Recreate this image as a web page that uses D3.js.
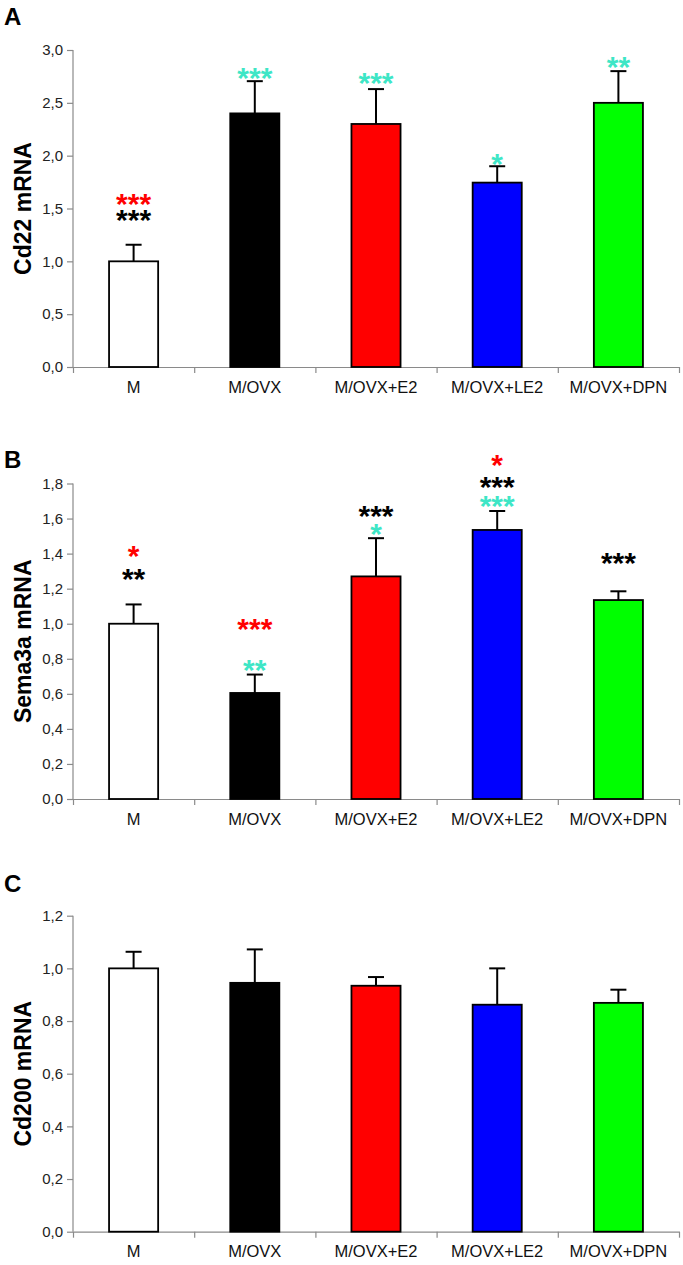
<!DOCTYPE html>
<html><head><meta charset="utf-8">
<script src="https://cdn.jsdelivr.net/npm/d3@7"></script>
<style>html,body{margin:0;padding:0;background:#fff;}svg{display:block;}</style>
</head><body>
<svg id="chart" width="683" height="1265"></svg>
<script>
const categories = ["M","M/OVX","M/OVX+E2","M/OVX+LE2","M/OVX+DPN"];

const cd22 = [1.0, 2.40, 2.30, 1.745, 2.50];
const cd22Err = [0.157, 0.305, 0.33, 0.155, 0.30];
const cd22Ticks = [0,0.5,1.0,1.5,2.0,2.5,3.0];
// [stars, comparison group, y position in data units]
const cd22Sig = [
  [["***","E2",1.611],["***","OVX",1.454]],
  [["***","M",2.804]],
  [["***","M",2.754]],
  [["*","M",1.99]],
  [["**","M",2.905]]
];

const sema3a = [1.0, 0.605, 1.27, 1.535, 1.135];
const sema3aErr = [0.11, 0.105, 0.218, 0.108, 0.05];
const sema3aTicks = [0,0.2,0.4,0.6,0.8,1.0,1.2,1.4,1.6,1.8];
const sema3aSig = [
  [["*","E2",1.426],["**","OVX",1.297]],
  [["***","E2",1.011],["**","M",0.778]],
  [["***","OVX",1.656],["*","M",1.553]],
  [["*","E2",1.944],["***","OVX",1.82],["***","M",1.711]],
  [["***","OVX",1.388]]
];

const cd200 = [1.0, 0.945, 0.934, 0.862, 0.869];
const cd200Err = [0.063, 0.127, 0.033, 0.138, 0.05];
const cd200Ticks = [0,0.2,0.4,0.6,0.8,1.0,1.2];
const cd200Sig = [[],[],[],[],[]];

const panelLetters = ["A","B","C"];
const yTitles = ["Cd22 mRNA","Sema3a mRNA","Cd200 mRNA"];

// styles
const barFill = ["#ffffff","#000000","#ff0000","#0000ff","#00ff00"];
const sigColor = {M:"#3ee6c6", OVX:"#000000", E2:"#ff0000"};
const axisColor = "#8a8a8a";
const FONT = "'Liberation Sans', Arial, Helvetica, sans-serif";

const svg = d3.select("#chart");
const x0 = 73, x1 = 679;

const panels = [
  {vals:cd22, err:cd22Err, ticks:cd22Ticks, sig:cd22Sig, top:50, bottom:367, letterY:25},
  {vals:sema3a, err:sema3aErr, ticks:sema3aTicks, sig:sema3aSig, top:483.5, bottom:799, letterY:468},
  {vals:cd200, err:cd200Err, ticks:cd200Ticks, sig:cd200Sig, top:915.7, bottom:1231.7, letterY:892}
];

const fmt = v => d3.format(".1f")(v).replace(".", ",");

panels.forEach((p, pi) => {
  const g = svg.append("g");
  const y = d3.scaleLinear().domain([0, d3.max(p.ticks)]).range([p.bottom, p.top]);
  const xb = d3.scaleBand().domain(categories).range([x0, x1]).padding(0);
  const bw = xb.bandwidth() * 0.405;
  const cx = i => xb(categories[i]) + xb.bandwidth() / 2;

  // panel letter
  g.append("text").attr("x", 4).attr("y", p.letterY)
    .attr("font-family", FONT).attr("font-weight", "bold").attr("font-size", 24)
    .text(panelLetters[pi]);

  // y title
  g.append("text")
    .attr("transform", `translate(${31},${(p.top + p.bottom) / 2}) rotate(-90)`)
    .attr("text-anchor", "middle")
    .attr("font-family", FONT).attr("font-weight", "bold").attr("font-size", 23)
    .text(yTitles[pi]);

  // y axis
  const ya = g.append("g").attr("transform", `translate(${x0},0)`)
    .call(d3.axisLeft(y).tickValues(p.ticks).tickFormat(fmt).tickSize(6).tickPadding(4));
  ya.selectAll("path,line").attr("stroke", axisColor).attr("stroke-width", 1.2);
  ya.select(".domain").attr("d", `M0,${y(0)}V${y(d3.max(p.ticks))}`);
  ya.selectAll("text").attr("font-family", FONT).attr("font-size", 15).attr("fill", "#222");

  // x axis: boundary ticks
  const xl = d3.scaleLinear().domain([0, categories.length]).range([x0, x1]);
  const xa = g.append("g").attr("transform", `translate(0,${y(0)})`)
    .call(d3.axisBottom(xl).tickValues(d3.range(categories.length + 1)).tickFormat("").tickSize(6).tickSizeOuter(0));
  xa.selectAll("path,line").attr("stroke", axisColor).attr("stroke-width", 1.2);

  // x labels
  const xlab = g.append("g").attr("transform", `translate(0,${y(0)})`)
    .call(d3.axisBottom(xb).tickSize(0).tickPadding(14));
  xlab.select(".domain").remove();
  xlab.selectAll("text").attr("font-family", FONT).attr("font-size", 16.5).attr("fill", "#111");

  // error bars
  const eb = g.selectAll(".eb").data(p.vals).enter().append("g");
  eb.append("line")
    .attr("x1", (d, i) => cx(i)).attr("x2", (d, i) => cx(i))
    .attr("y1", d => y(d))
    .attr("y2", (d, i) => y(d + p.err[i]))
    .attr("stroke", "#000").attr("stroke-width", 2);
  eb.append("line")
    .attr("x1", (d, i) => cx(i) - 8).attr("x2", (d, i) => cx(i) + 8)
    .attr("y1", (d, i) => y(d + p.err[i]))
    .attr("y2", (d, i) => y(d + p.err[i]))
    .attr("stroke", "#000").attr("stroke-width", 2);

  // bars
  g.selectAll(".bar").data(p.vals).enter().append("rect")
    .attr("x", (d, i) => xb(categories[i]) + (xb.bandwidth() - bw) / 2)
    .attr("width", bw)
    .attr("y", d => y(d))
    .attr("height", d => y(0) - y(d))
    .attr("fill", (d, i) => barFill[i])
    .attr("stroke", "#000").attr("stroke-width", 1.8);

  // significance stars
  p.sig.forEach((marks, i) => {
    marks.forEach(m => {
      g.append("text")
        .attr("x", cx(i))
        .attr("y", y(m[2]) + 17)
        .attr("text-anchor", "middle")
        .attr("font-family", FONT).attr("font-weight", "bold").attr("font-size", 30)
        .attr("fill", sigColor[m[1]])
        .text(m[0]);
    });
  });
});
</script>
</body></html>
